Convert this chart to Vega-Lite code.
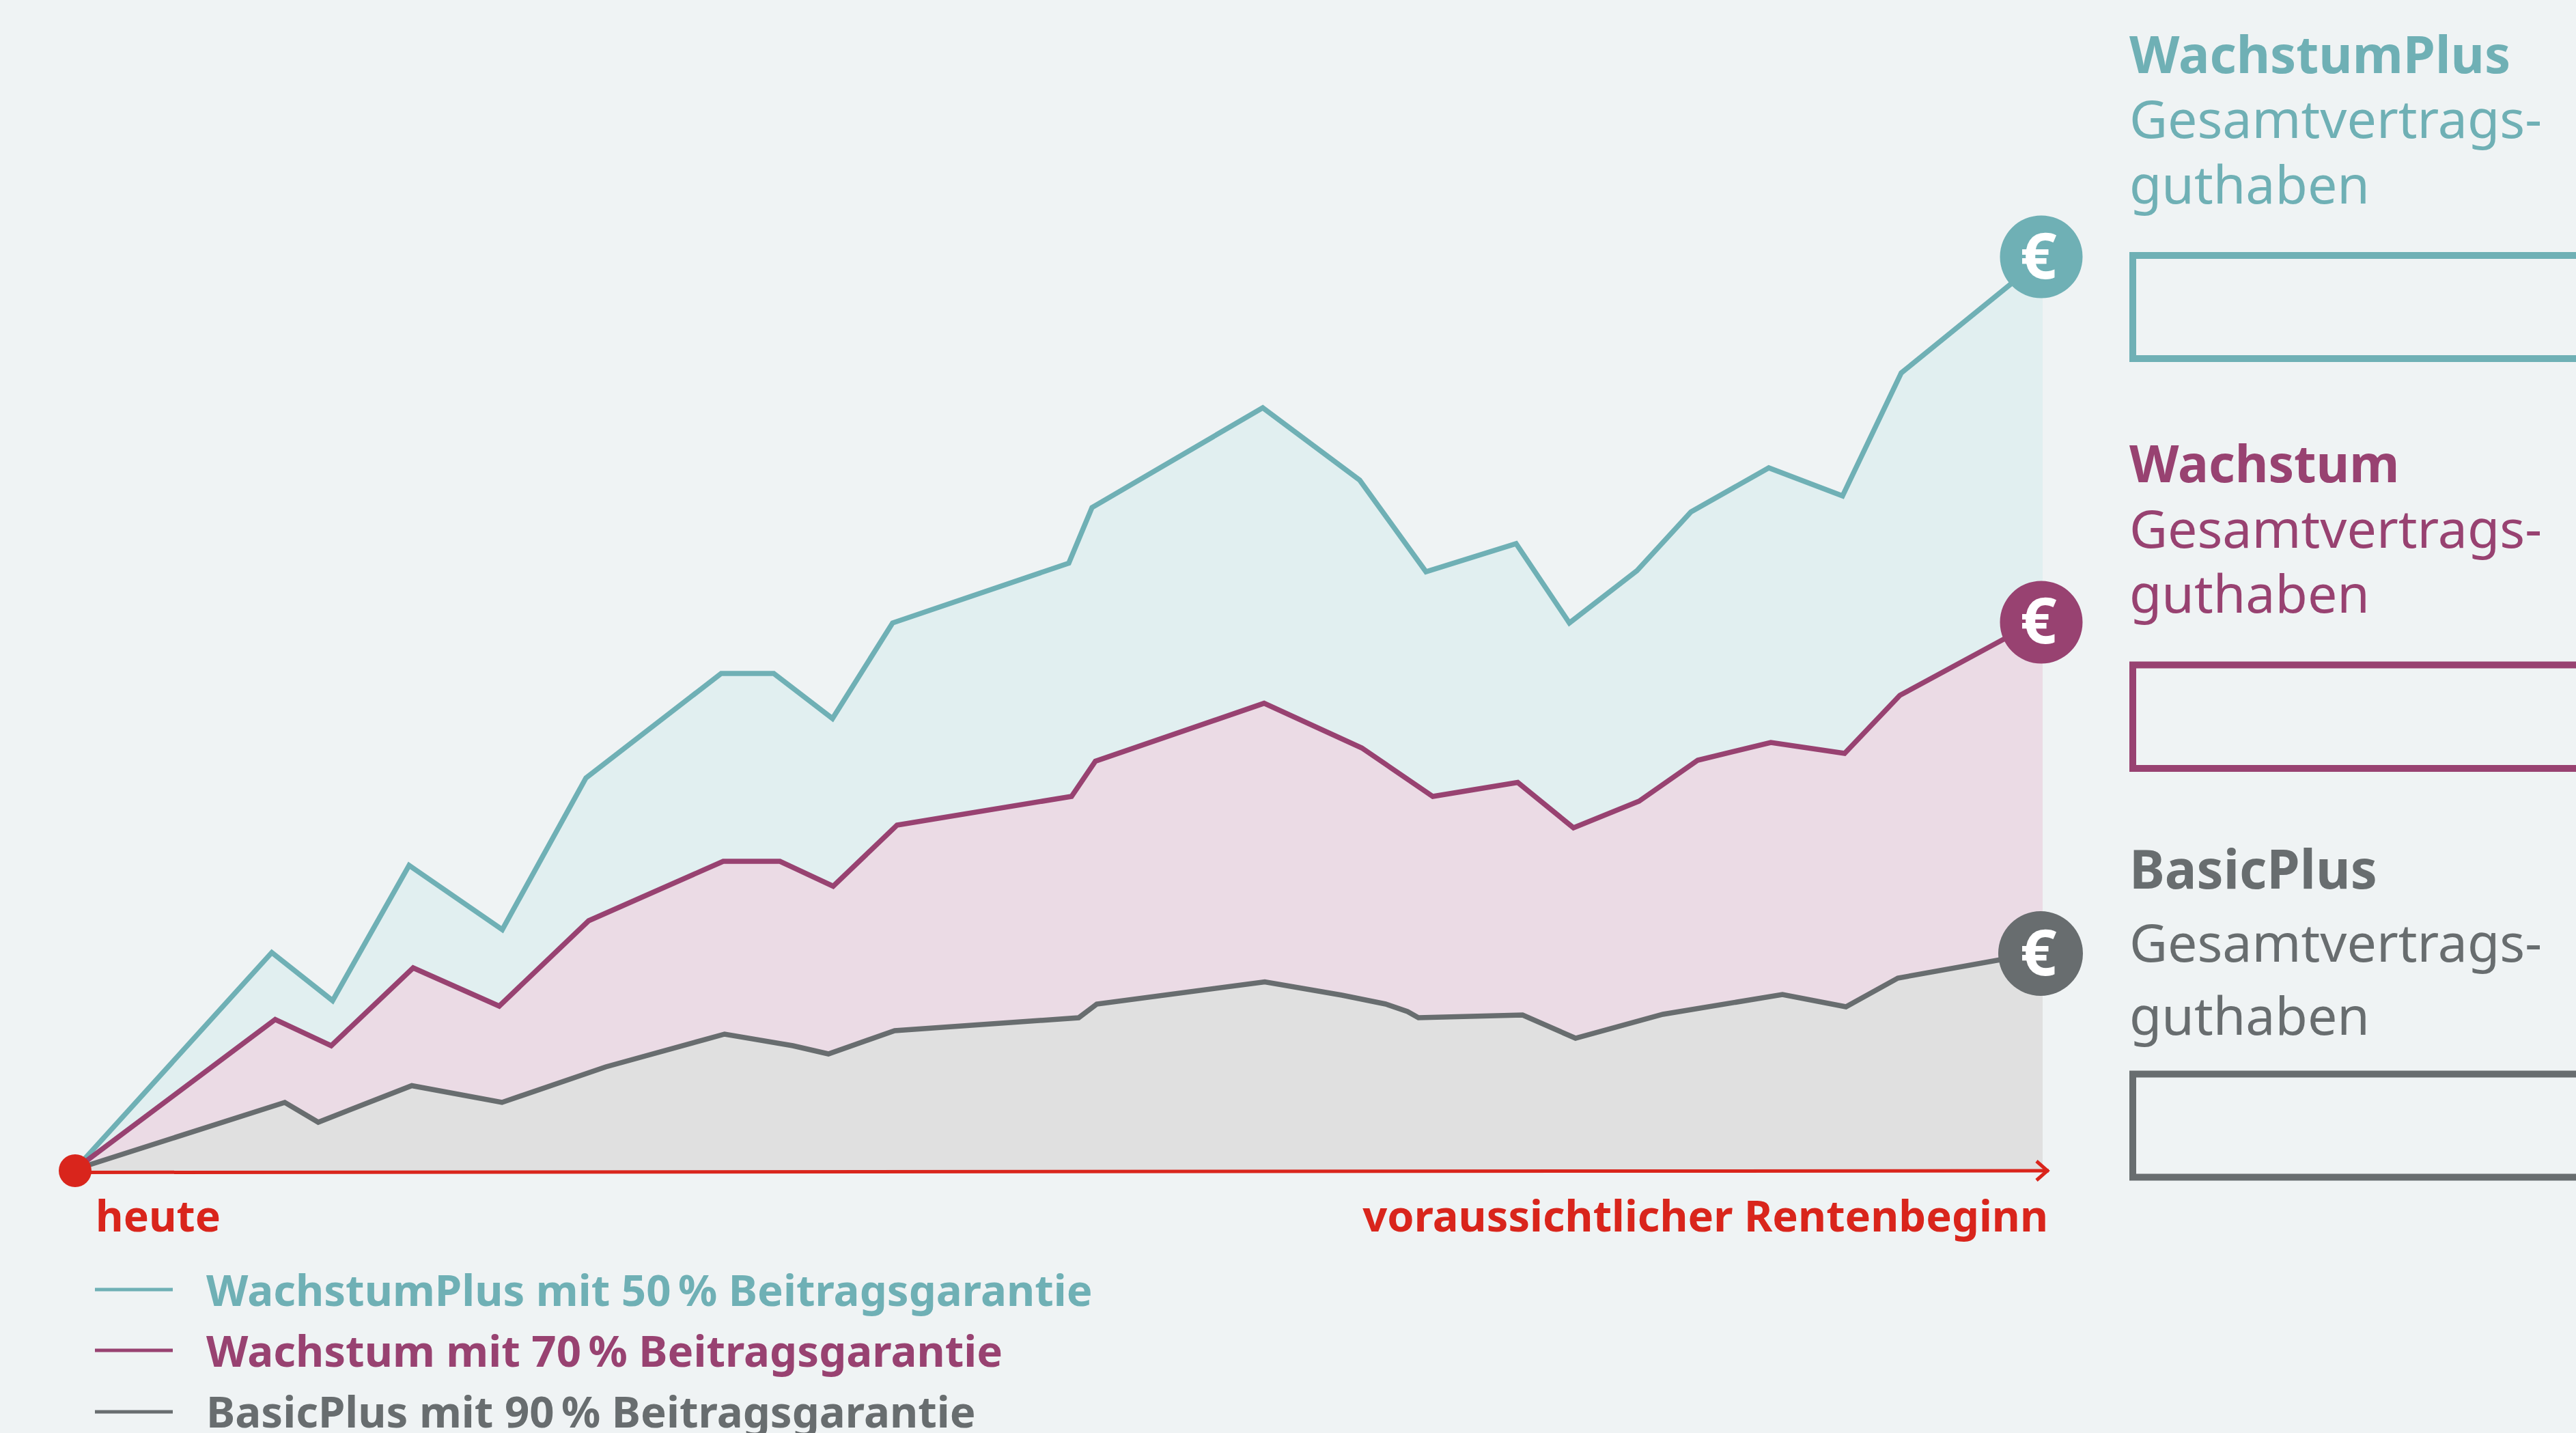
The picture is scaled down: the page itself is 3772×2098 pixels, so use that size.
{"$schema":"https://vega.github.io/schema/vega-lite/v6.json","width":3772,"height":2098,"autosize":{"type":"none"},"padding":0,"background":"#eff3f4","config":{"view":{"stroke":null}},
"datasets":{"series":[
{"s":"WachstumPlus","t":0,"v":2},{"s":"WachstumPlus","t":288,"v":319.5},{"s":"WachstumPlus","t":377,"v":249},{"s":"WachstumPlus","t":489,"v":447},{"s":"WachstumPlus","t":625.5,"v":353},{"s":"WachstumPlus","t":748,"v":575},{"s":"WachstumPlus","t":946,"v":728},{"s":"WachstumPlus","t":1023,"v":728},{"s":"WachstumPlus","t":1109,"v":662},{"s":"WachstumPlus","t":1197,"v":802},{"s":"WachstumPlus","t":1455,"v":889.5},{"s":"WachstumPlus","t":1489,"v":971},{"s":"WachstumPlus","t":1739,"v":1117},{"s":"WachstumPlus","t":1881,"v":1011},{"s":"WachstumPlus","t":1978,"v":877},{"s":"WachstumPlus","t":2110,"v":918},{"s":"WachstumPlus","t":2188,"v":802},{"s":"WachstumPlus","t":2287,"v":878.5},{"s":"WachstumPlus","t":2366,"v":964.5},{"s":"WachstumPlus","t":2480,"v":1029},{"s":"WachstumPlus","t":2588,"v":988},{"s":"WachstumPlus","t":2674,"v":1168},{"s":"WachstumPlus","t":2881,"v":1336},
{"s":"Wachstum","t":0,"v":2},{"s":"Wachstum","t":293,"v":221.5},{"s":"Wachstum","t":375,"v":183},{"s":"Wachstum","t":495,"v":297},{"s":"Wachstum","t":621,"v":241},{"s":"Wachstum","t":752,"v":366},{"s":"Wachstum","t":949,"v":453},{"s":"Wachstum","t":1032,"v":453},{"s":"Wachstum","t":1110,"v":416.5},{"s":"Wachstum","t":1203.5,"v":506},{"s":"Wachstum","t":1459,"v":548},{"s":"Wachstum","t":1494,"v":599.5},{"s":"Wachstum","t":1741,"v":684.4},{"s":"Wachstum","t":1884,"v":619},{"s":"Wachstum","t":1988,"v":548},{"s":"Wachstum","t":2112.4,"v":568.5},{"s":"Wachstum","t":2194,"v":502},{"s":"Wachstum","t":2290,"v":541},{"s":"Wachstum","t":2376,"v":601},{"s":"Wachstum","t":2483,"v":627},{"s":"Wachstum","t":2591,"v":611},{"s":"Wachstum","t":2672,"v":696},{"s":"Wachstum","t":2881,"v":809},
{"s":"BasicPlus","t":0,"v":2},{"s":"BasicPlus","t":307,"v":100},{"s":"BasicPlus","t":356,"v":71},{"s":"BasicPlus","t":493,"v":124.5},{"s":"BasicPlus","t":625,"v":100},{"s":"BasicPlus","t":777,"v":152},{"s":"BasicPlus","t":951,"v":200},{"s":"BasicPlus","t":1051,"v":183},{"s":"BasicPlus","t":1103,"v":171},{"s":"BasicPlus","t":1200,"v":205},{"s":"BasicPlus","t":1469.5,"v":224},{"s":"BasicPlus","t":1496,"v":244},{"s":"BasicPlus","t":1742,"v":276.5},{"s":"BasicPlus","t":1855,"v":257},{"s":"BasicPlus","t":1919,"v":244},{"s":"BasicPlus","t":1951,"v":233},{"s":"BasicPlus","t":1967,"v":224},{"s":"BasicPlus","t":2119.5,"v":228},{"s":"BasicPlus","t":2197,"v":194},{"s":"BasicPlus","t":2325,"v":229},{"s":"BasicPlus","t":2500,"v":258},{"s":"BasicPlus","t":2593,"v":240},{"s":"BasicPlus","t":2669,"v":282},{"s":"BasicPlus","t":2881,"v":320}],
"ends":[{"s":"WachstumPlus","t":2879,"v":1338,"r":14641,"bv":1306},{"s":"Wachstum","t":2879,"v":803,"r":14641,"bv":772},{"s":"BasicPlus","t":2878,"v":318,"r":15376,"bv":286}],
"axisline":[{"t":0,"v":-2.5},{"t":2890,"v":0}],
"arrow":[{"i":1,"t":2872,"v":14},{"i":2,"t":2888,"v":0},{"i":3,"t":2872,"v":-14}]},
"encoding":{"x":{"type":"quantitative","axis":null,"scale":{"domain":[-110,3662],"nice":false,"zero":false}},"y":{"type":"quantitative","axis":null,"stack":null,"scale":{"domain":[-384,1714],"nice":false,"zero":false}}},
"layer":[
{"data":{"name":"series"},"transform":[{"filter":"datum.s==='WachstumPlus'"}],"mark":{"type":"area","color":"#e1eff0"},"encoding":{"x":{"field":"t"},"y":{"field":"v"},"y2":{"datum":0}}},
{"data":{"name":"series"},"transform":[{"filter":"datum.s==='Wachstum'"}],"mark":{"type":"area","color":"#ebdbe5"},"encoding":{"x":{"field":"t"},"y":{"field":"v"},"y2":{"datum":0}}},
{"data":{"name":"series"},"transform":[{"filter":"datum.s==='BasicPlus'"}],"mark":{"type":"area","color":"#e0e0e0"},"encoding":{"x":{"field":"t"},"y":{"field":"v"},"y2":{"datum":0}}},
{"data":{"name":"series"},"mark":{"type":"line","strokeWidth":7.5,"strokeJoin":"miter"},"encoding":{"x":{"field":"t"},"y":{"field":"v"},"color":{"field":"s","type":"nominal","legend":null,"scale":{"domain":["WachstumPlus","Wachstum","BasicPlus"],"range":["#6fb0b5","#984271","#686d6f"]}}}},
{"data":{"name":"axisline"},"mark":{"type":"line","color":"#d9251c","strokeWidth":5},"encoding":{"x":{"field":"t"},"y":{"field":"v"}}},
{"data":{"name":"arrow"},"mark":{"type":"line","color":"#d9251c","strokeWidth":5,"strokeJoin":"miter"},"encoding":{"x":{"field":"t"},"y":{"field":"v"},"order":{"field":"i","type":"quantitative"}}},
{"data":{"values":[{"p":"heute"}]},"mark":{"type":"point","filled":true,"opacity":1,"color":"#d9251c","shape":"circle","size":2304},"encoding":{"x":{"datum":0},"y":{"datum":0}}},
{"data":{"name":"ends"},"mark":{"type":"point","filled":true,"opacity":1,"shape":"circle"},"encoding":{"x":{"field":"t"},"y":{"field":"v"},"size":{"field":"r","type":"quantitative","scale":null},"color":{"field":"s","type":"nominal","legend":null}}},
{"data":{"name":"ends"},"mark":{"type":"text","text":"€","color":"#ffffff","font":"Noto Sans","fontWeight":"bold","fontSize":94,"align":"center","baseline":"alphabetic"},"encoding":{"x":{"datum":2875},"y":{"field":"bv"}}},
{"data":{"values":[{"p":"WachstumPlus"}]},"mark":{"type":"rect","fill":null,"stroke":"#6fb0b5","strokeWidth":10},"encoding":{"x":{"datum":3013},"x2":{"datum":3700},"y":{"datum":1340},"y2":{"datum":1189}}},
{"data":{"values":[{"p":"Wachstum"}]},"mark":{"type":"rect","fill":null,"stroke":"#984271","strokeWidth":10},"encoding":{"x":{"datum":3013},"x2":{"datum":3700},"y":{"datum":740.5},"y2":{"datum":589}}},
{"data":{"values":[{"p":"BasicPlus"}]},"mark":{"type":"rect","fill":null,"stroke":"#686d6f","strokeWidth":10},"encoding":{"x":{"datum":3013},"x2":{"datum":3700},"y":{"datum":141.5},"y2":{"datum":-9.5}}},
{"data":{"values":[{"l":"WachstumPlus"}]},"mark":{"type":"text","color":"#6fb0b5","font":"Noto Sans","fontWeight":"bold","fontSize":76,"align":"left","baseline":"alphabetic"},"encoding":{"x":{"datum":3008},"y":{"datum":1607},"text":{"field":"l"}}},
{"data":{"values":[{"l":"Gesamtvertrags-"}]},"mark":{"type":"text","color":"#6fb0b5","font":"Noto Sans","fontSize":77,"align":"left","baseline":"alphabetic"},"encoding":{"x":{"datum":3008},"y":{"datum":1512},"text":{"field":"l"}}},
{"data":{"values":[{"l":"guthaben"}]},"mark":{"type":"text","color":"#6fb0b5","font":"Noto Sans","fontSize":77,"align":"left","baseline":"alphabetic"},"encoding":{"x":{"datum":3008},"y":{"datum":1416},"text":{"field":"l"}}},
{"data":{"values":[{"l":"Wachstum"}]},"mark":{"type":"text","color":"#984271","font":"Noto Sans","fontWeight":"bold","fontSize":75,"align":"left","baseline":"alphabetic"},"encoding":{"x":{"datum":3008},"y":{"datum":1008},"text":{"field":"l"}}},
{"data":{"values":[{"l":"Gesamtvertrags-"}]},"mark":{"type":"text","color":"#984271","font":"Noto Sans","fontSize":77,"align":"left","baseline":"alphabetic"},"encoding":{"x":{"datum":3008},"y":{"datum":912},"text":{"field":"l"}}},
{"data":{"values":[{"l":"guthaben"}]},"mark":{"type":"text","color":"#984271","font":"Noto Sans","fontSize":77,"align":"left","baseline":"alphabetic"},"encoding":{"x":{"datum":3008},"y":{"datum":817},"text":{"field":"l"}}},
{"data":{"values":[{"l":"BasicPlus"}]},"mark":{"type":"text","color":"#686d6f","font":"Noto Sans","fontWeight":"bold","fontSize":78,"align":"left","baseline":"alphabetic"},"encoding":{"x":{"datum":3008},"y":{"datum":413},"text":{"field":"l"}}},
{"data":{"values":[{"l":"Gesamtvertrags-"}]},"mark":{"type":"text","color":"#686d6f","font":"Noto Sans","fontSize":77,"align":"left","baseline":"alphabetic"},"encoding":{"x":{"datum":3008},"y":{"datum":306},"text":{"field":"l"}}},
{"data":{"values":[{"l":"guthaben"}]},"mark":{"type":"text","color":"#686d6f","font":"Noto Sans","fontSize":77,"align":"left","baseline":"alphabetic"},"encoding":{"x":{"datum":3008},"y":{"datum":199},"text":{"field":"l"}}},
{"data":{"values":[{"l":"heute"}]},"mark":{"type":"text","color":"#d9251c","font":"Noto Sans","fontWeight":"bold","fontSize":62.5,"align":"left","baseline":"alphabetic"},"encoding":{"x":{"datum":30},"y":{"datum":-89},"text":{"field":"l"}}},
{"data":{"values":[{"l":"voraussichtlicher Rentenbeginn"}]},"mark":{"type":"text","color":"#d9251c","font":"Noto Sans","fontWeight":"bold","fontSize":63.2,"align":"right","baseline":"alphabetic"},"encoding":{"x":{"datum":2889},"y":{"datum":-89},"text":{"field":"l"}}},
{"data":{"values":[{"l":"WachstumPlus mit 50\u2009% Beitragsgarantie"}]},"mark":{"type":"text","color":"#6fb0b5","font":"Noto Sans","fontWeight":"bold","fontSize":63.5,"align":"left","baseline":"alphabetic"},"encoding":{"x":{"datum":192},"y":{"datum":-198},"text":{"field":"l"}}},
{"data":{"values":[{"l":"Wachstum mit 70\u2009% Beitragsgarantie"}]},"mark":{"type":"text","color":"#984271","font":"Noto Sans","fontWeight":"bold","fontSize":63.5,"align":"left","baseline":"alphabetic"},"encoding":{"x":{"datum":192},"y":{"datum":-287},"text":{"field":"l"}}},
{"data":{"values":[{"l":"BasicPlus mit 90\u2009% Beitragsgarantie"}]},"mark":{"type":"text","color":"#686d6f","font":"Noto Sans","fontWeight":"bold","fontSize":63.5,"align":"left","baseline":"alphabetic"},"encoding":{"x":{"datum":192},"y":{"datum":-376},"text":{"field":"l"}}},
{"data":{"values":[{"p":"WachstumPlus"}]},"mark":{"type":"rule","color":"#6fb0b5","strokeWidth":5},"encoding":{"x":{"datum":29},"x2":{"datum":143},"y":{"datum":-174}}},
{"data":{"values":[{"p":"Wachstum"}]},"mark":{"type":"rule","color":"#984271","strokeWidth":5},"encoding":{"x":{"datum":29},"x2":{"datum":143},"y":{"datum":-263}}},
{"data":{"values":[{"p":"BasicPlus"}]},"mark":{"type":"rule","color":"#686d6f","strokeWidth":5},"encoding":{"x":{"datum":29},"x2":{"datum":143},"y":{"datum":-353}}}
]}
